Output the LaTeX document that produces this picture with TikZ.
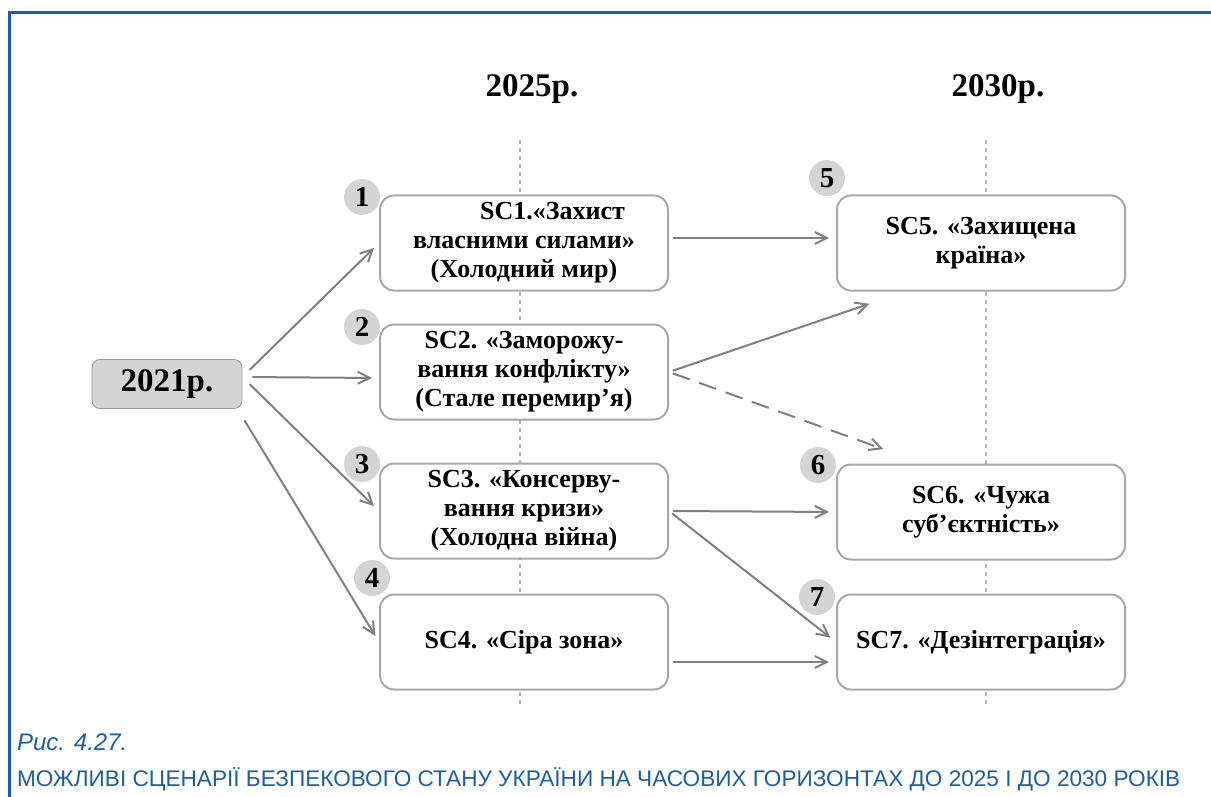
\documentclass[tikz,border=0pt]{standalone}
\usepackage{fontspec}
\setmainfont{Liberation Serif}
\newfontfamily\capfont{Liberation Sans}
\usetikzlibrary{arrows.meta}
\definecolor{frameblue}{HTML}{1560A8}
\definecolor{capblue}{HTML}{1B5FA3}
\definecolor{boxline}{HTML}{A8A8A8}
\definecolor{arrgray}{HTML}{808080}
\definecolor{numfill}{HTML}{D4D4D4}

\begin{document}
\begin{tikzpicture}[x=0.5pt,y=-0.5pt,>={Straight Barb[length=6pt,width=6pt]},
 box/.style={draw=boxline,line width=1pt,fill=white,rounded corners=7pt,minimum width=144pt,minimum height=47.5pt,align=center,inner sep=0pt,font=\fontsize{13}{14.5}\selectfont\bfseries},
 numc/.style={circle,fill=numfill,minimum size=18pt,inner sep=0pt,font=\fontsize{14.5}{14.5}\selectfont\bfseries},
 year/.style={font=\fontsize{16.5}{16.5}\selectfont\bfseries},
 arr/.style={->,draw=arrgray,line width=1pt,shorten >=3.5pt,shorten <=2pt},
 guide/.style={draw=gray!60,line width=0.6pt,dash pattern=on 2pt off 2pt}]
\useasboundingbox (0,0) rectangle (1211,797);
\draw[frameblue,line width=1.5pt] (9,797)--(9,13)--(1211,13);
\node[year] (y25) at (532,89) {2025р.};
\node[year] (y30) at (998,89) {2030р.};
\draw[guide] (520,140)--(520,705);
\draw[guide] (986,140)--(986,705);
\node[draw=boxline!90!black,fill=numfill,rounded corners=4pt,minimum width=75pt,minimum height=24.5pt,year] (y21) at (167,384) {2021р.};
\node[box] (sc1) at (524,243) {\hspace*{2.2em}SC1.«Захист\\власними силами»\\(Холодний мир)};
\node[box] (sc2) at (524,372) {SC2. «Заморожу-\\вання конфлікту»\\(Стале перемир’я)};
\node[box] (sc3) at (524,511) {SC3. «Консерву-\\вання кризи»\\(Холодна війна)};
\node[box] (sc4) at (524,642) {SC4. «Сіра зона»};
\node[box] (sc5) at (981,243) {SC5. «Захищена\\країна»};
\node[box] (sc6) at (981,512) {SC6. «Чужа\\суб’єктність»};
\node[box] (sc7) at (981,642) {SC7. «Дезінтеграція»};
\node[numc] (n1) at (362,197) {1};
\node[numc] (n2) at (362,327) {2};
\node[numc] (n3) at (362,464) {3};
\node[numc] (n4) at (372,578) {4};
\node[numc] (n5) at (827,178) {5};
\node[numc] (n6) at (818,465) {6};
\node[numc] (n7) at (817,597) {7};
\draw[arr,shorten <=5pt] ([yshift=3.5pt]y21.east)--(sc1.west);
\draw[arr,shorten <=5pt] ([yshift=3.5pt]y21.east)--([yshift=-3pt]sc2.west);
\draw[arr,shorten <=5pt] ([yshift=3.5pt]y21.east)--(sc3.west);
\draw[arr] ([yshift=-4pt]y21.south east)--(sc4.west);
\draw[arr] ([yshift=2.5pt]sc1.east)--([yshift=2.5pt]sc5.west);
\draw[arr] (sc2.east)--([xshift=20pt,yshift=-5pt]sc5.south west);
\draw[arr,dash pattern=on 9pt off 5pt] (sc2.east)--([xshift=27pt,yshift=6pt]sc6.north west);
\draw[arr] (sc3.east)--(sc6.west);
\draw[arr] (sc3.east)--(sc7.west);
\draw[arr] ([yshift=-10pt]sc4.east)--([yshift=-10pt]sc7.west);
\node[anchor=base west,text=capblue,font=\capfont\fontsize{12}{12}\selectfont\itshape] (cap1) at (10,750) {Рис. 4.27.};
\node[anchor=base west,text=capblue,font=\capfont\fontsize{11.3}{12}\selectfont] (cap2) at (10,786) {МОЖЛИВІ СЦЕНАРІЇ БЕЗПЕКОВОГО СТАНУ УКРАЇНИ НА ЧАСОВИХ ГОРИЗОНТАХ ДО 2025 І ДО 2030 РОКІВ};
\end{tikzpicture}
\end{document}
